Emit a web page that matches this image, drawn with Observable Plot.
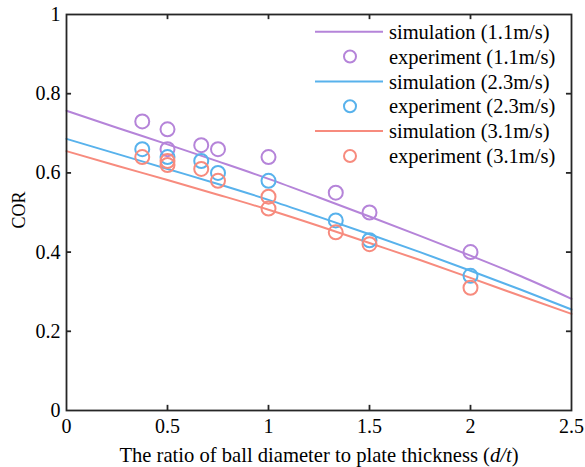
<!DOCTYPE html>
<html><head><meta charset="utf-8">
<script src="https://cdn.jsdelivr.net/npm/d3@7"></script>
<script src="https://cdn.jsdelivr.net/npm/@observablehq/plot@0.6"></script>
<style>
body{margin:0;background:#fff}
#chart{width:585px;height:467px}
</style>
</head><body><div id="chart"></div>
<script>
// ---- data ----
const speeds = ["1.1m/s", "2.3m/s", "3.1m/s"];
const colors = ["#b584d9", "#58b2ec", "#f78b7e"];
const simX = [0, 0.25, 0.5, 0.75, 1.0, 1.25, 1.5, 1.75, 2.0, 2.25, 2.5];
const sim11 = [0.757, 0.714, 0.672, 0.629, 0.585, 0.538, 0.490, 0.441, 0.391, 0.339, 0.282];
const sim23 = [0.686, 0.648, 0.610, 0.572, 0.532, 0.489, 0.445, 0.400, 0.353, 0.305, 0.255];
const sim31 = [0.655, 0.618, 0.582, 0.545, 0.507, 0.466, 0.423, 0.380, 0.335, 0.289, 0.244];
const exp11X = [0.375, 0.5, 0.5, 0.667, 0.75, 1.0, 1.333, 1.5, 2.0];
const exp11Y = [0.73, 0.71, 0.66, 0.67, 0.66, 0.64, 0.55, 0.50, 0.40];
const exp23X = [0.375, 0.5, 0.667, 0.75, 1.0, 1.333, 1.5, 2.0];
const exp23Y = [0.66, 0.64, 0.63, 0.60, 0.58, 0.48, 0.43, 0.34];
const exp31X = [0.375, 0.5, 0.5, 0.667, 0.75, 1.0, 1.0, 1.333, 1.5, 2.0];
const exp31Y = [0.64, 0.63, 0.62, 0.61, 0.58, 0.54, 0.51, 0.45, 0.42, 0.31];
const xTicks = [0, 0.5, 1, 1.5, 2, 2.5];
const yTicks = [0, 0.2, 0.4, 0.6, 0.8, 1];
const xLabel = ["The ratio of ball diameter to plate thickness (", "d/t", ")"];
const yLabel = "COR";

// ---- tables ----
const simSets = [sim11, sim23, sim31];
const expSets = [[exp11X, exp11Y], [exp23X, exp23Y], [exp31X, exp31Y]];
const simData = simSets.flatMap((ys, i) => ys.map((y, j) => ({x: simX[j], y, s: speeds[i]})));
const expData = expSets.flatMap(([xs, ys], i) => xs.map((x, j) => ({x, y: ys[j], s: speeds[i]})));

const font = '"Liberation Serif", "Times New Roman", serif';
const axisColor = "#262626";

const plot = Plot.plot({
  width: 585, height: 467,
  marginLeft: 66, marginRight: 14, marginTop: 14, marginBottom: 57,
  style: {fontFamily: font, fontSize: "20px", color: "#000", background: "#fff"},
  x: {domain: [0, 2.5]},
  y: {domain: [0, 1]},
  color: {domain: speeds, range: colors},
  marks: [
    Plot.line(simData, {x: "x", y: "y", z: "s", stroke: "s", strokeWidth: 2, curve: "monotone-x"}),
    Plot.dot(expData, {x: "x", y: "y", stroke: "s", r: 7, strokeWidth: 2, fill: "none"}),
    Plot.frame({stroke: axisColor, strokeWidth: 1.8}),
    Plot.ruleX(xTicks.slice(1, -1), {x: d => d, y1: 0, y2: 0.013, stroke: axisColor, strokeWidth: 1.8}),
    Plot.ruleX(xTicks.slice(1, -1), {x: d => d, y1: 1, y2: 0.987, stroke: axisColor, strokeWidth: 1.8}),
    Plot.ruleY(yTicks.slice(1, -1), {y: d => d, x1: 0, x2: 0.025, stroke: axisColor, strokeWidth: 1.8}),
    Plot.ruleY(yTicks.slice(1, -1), {y: d => d, x1: 2.5, x2: 2.475, stroke: axisColor, strokeWidth: 1.8}),
    Plot.axisX(xTicks, {tickSize: 0, tickPadding: 8, label: null, tickFormat: d => String(d), fontSize: 20}),
    Plot.axisY(yTicks, {tickSize: 0, tickPadding: 6, label: null, tickFormat: d => String(d), fontSize: 20})
  ]
});
document.getElementById("chart").appendChild(plot);

// ---- labels and legend ----
const svg = d3.select(plot);
const xl = svg.append("text")
  .attr("x", 319).attr("y", 462)
  .attr("text-anchor", "middle")
  .style("font-family", font).style("font-size", "20.6px").attr("fill", "#000");
xl.append("tspan").text(xLabel[0]);
xl.append("tspan").attr("font-style", "italic").text(xLabel[1]);
xl.append("tspan").text(xLabel[2]);

svg.append("text")
  .attr("transform", "translate(25,210) rotate(-90)")
  .attr("text-anchor", "middle")
  .style("font-family", font).style("font-size", "18px").attr("fill", "#000")
  .text(yLabel);

const leg = svg.append("g").attr("text-anchor", "start")
  .style("font-family", font).style("font-size", "20.5px");
speeds.forEach((sp, i) => {
  const y1 = 31.7 + i * 2 * 24.85;
  const y2 = y1 + 24.85;
  leg.append("line").attr("x1", 315).attr("x2", 383).attr("y1", y1).attr("y2", y1)
    .attr("stroke", colors[i]).attr("stroke-width", 2);
  leg.append("text").attr("x", 389).attr("y", y1).attr("dy", "0.35em").attr("fill", "#000")
    .attr("text-anchor", "start").text(`simulation (${sp})`);
  leg.append("circle").attr("cx", 350).attr("cy", y2).attr("r", 6)
    .attr("fill", "none").attr("stroke", colors[i]).attr("stroke-width", 2);
  leg.append("text").attr("x", 389).attr("y", y2).attr("dy", "0.35em").attr("fill", "#000")
    .attr("text-anchor", "start").text(`experiment (${sp})`);
});
</script>
</body></html>
